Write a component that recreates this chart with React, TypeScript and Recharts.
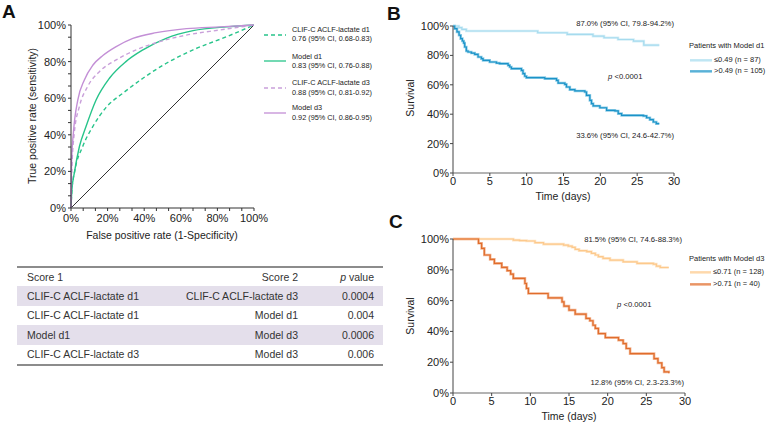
import React from 'react';
import { LineChart, Line, XAxis, YAxis } from 'recharts';

const FONT = '"Liberation Sans", Arial, Helvetica, sans-serif';
const INK = '#222';

// ---------- A: ROC curves (false positive rate / true positive rate) ----------
const clifD1Fpr = [0, 0.005, 0.02, 0.064, 0.119, 0.192, 0.283, 0.393, 0.521, 0.667, 0.85, 1];
const clifD1Tpr = [0, 0.1, 0.2, 0.336, 0.445, 0.55, 0.627, 0.709, 0.791, 0.864, 0.936, 1];
const modelD1Fpr = [0, 0.005, 0.018, 0.046, 0.082, 0.137, 0.21, 0.3, 0.393, 0.52, 0.667, 0.85, 1];
const modelD1Tpr = [0, 0.1, 0.19, 0.336, 0.445, 0.59, 0.709, 0.8, 0.864, 0.927, 0.969, 0.99, 1];
const clifD3Fpr = [0, 0.005, 0.018, 0.046, 0.091, 0.155, 0.247, 0.356, 0.484, 0.631, 0.814, 1];
const clifD3Tpr = [0, 0.22, 0.41, 0.555, 0.664, 0.745, 0.809, 0.864, 0.909, 0.945, 0.973, 1];
const modelD3Fpr = [0, 0.003, 0.013, 0.037, 0.073, 0.119, 0.174, 0.247, 0.338, 0.466, 0.631, 0.814, 1];
const modelD3Tpr = [0, 0.25, 0.41, 0.59, 0.7, 0.78, 0.833, 0.882, 0.927, 0.958, 0.98, 0.99, 1];
const chanceFpr = [0, 1];
const chanceTpr = [0, 1];
const rocMajorTicks = [0, 0.2, 0.4, 0.6, 0.8, 1];

const rocLegendNames = ['CLIF-C ACLF-lactate d1', 'Model d1', 'CLIF-C ACLF-lactate d3', 'Model d3'];
const rocLegendAuc = ['0.76 (95% CI, 0.68-0.83)', '0.83 (95% CI, 0.76-0.88)', '0.88 (95% CI, 0.81-0.92)', '0.92 (95% CI, 0.86-0.95)'];

// ---------- table ----------
const tableScore1 = ['CLIF-C ACLF-lactate d1', 'CLIF-C ACLF-lactate d1', 'Model d1', 'CLIF-C ACLF-lactate d3'];
const tableScore2 = ['CLIF-C ACLF-lactate d3', 'Model d1', 'Model d3', 'Model d3'];
const tablePValue = ['0.0004', '0.004', '0.0006', '0.006'];

// ---------- B: Kaplan-Meier, Model d1 ----------
const bLowT = [0, 0.8, 1.2, 1.8, 11.5, 15.5, 19.0, 20.5, 22.4, 24.5, 25.9, 28.0];
const bLowS = [1, 0.989, 0.977, 0.966, 0.954, 0.943, 0.931, 0.92, 0.908, 0.897, 0.87, 0.87];
const bHighT = [0, 0.23, 0.54, 0.82, 1.04, 1.27, 1.45, 1.59, 1.81, 2.04, 2.49, 2.95, 3.4, 3.85, 4.08, 4.98, 5.89, 6.34, 7.48, 7.7,
  7.93, 9.29, 9.5, 9.74, 9.97, 12.46, 14.05, 14.27, 15.18, 15.4, 15.86, 16.54, 17.9, 18.12, 18.58, 18.8, 19.03, 19.94, 20.85, 21.98,
  22.43, 22.89, 25.83, 26.28, 26.73, 27.19, 27.6, 28.0];
const bHighS = [1, 0.982, 0.96, 0.937, 0.914, 0.898, 0.884, 0.857, 0.83, 0.823, 0.816, 0.807, 0.789, 0.778, 0.766, 0.755, 0.748, 0.744, 0.732, 0.721,
  0.71, 0.698, 0.676, 0.658, 0.649, 0.642, 0.63, 0.612, 0.603, 0.585, 0.567, 0.558, 0.551, 0.528, 0.494, 0.472, 0.456, 0.444, 0.426, 0.422,
  0.404, 0.392, 0.388, 0.376, 0.363, 0.347, 0.336, 0.336];

// ---------- C: Kaplan-Meier, Model d3 ----------
const cLowT = [0, 7.8, 8.6, 9.5, 10.6, 11.7, 14.3, 14.9, 15.4, 15.8, 16.3, 17.3, 17.9, 18.4, 18.8, 19.4, 20.3, 22.0, 23.8, 25.9, 26.3, 26.8, 27.9];
const cLowS = [1, 0.993, 0.99, 0.987, 0.976, 0.967, 0.96, 0.954, 0.946, 0.933, 0.924, 0.918, 0.907, 0.896, 0.885, 0.874, 0.863, 0.852, 0.842, 0.837, 0.824, 0.815, 0.815];
const cHighT = [0, 3.3, 3.7, 4.05, 4.8, 5.35, 6.3, 7.0, 7.45, 7.8, 9.3, 9.5, 9.75, 12.3, 14.1, 14.35, 15.0, 15.8, 17.2, 17.7,
  18.1, 18.4, 18.8, 19.7, 21.4, 22.0, 22.4, 22.9, 26.0, 26.5, 27.0, 27.3, 27.9];
const cHighS = [1, 0.972, 0.939, 0.896, 0.868, 0.842, 0.816, 0.794, 0.772, 0.744, 0.711, 0.679, 0.646, 0.618, 0.592, 0.564, 0.538, 0.512, 0.484, 0.469,
  0.44, 0.419, 0.386, 0.36, 0.343, 0.321, 0.289, 0.256, 0.223, 0.195, 0.165, 0.137, 0.128];

const kmTimeTicks = [0, 5, 10, 15, 20, 25, 30];
const kmSurvTicks = [0, 0.2, 0.4, 0.6, 0.8, 1];

const GREEN = '#27c48a';
const PURPLE = '#c38fd6';
const PURPLE_DASH = '#c9a0da';

const pts = (xs: number[], ys: number[]) => xs.map((x, i) => ({ x, y: ys[i] }));
const pct = (v: number) => `${Math.round(v * 100)}%`;
const isMajor = (v: number) => Math.abs(v * 5 - Math.round(v * 5)) < 1e-6;

// two minor ticks between each labelled tick
const rocTicks = rocMajorTicks.flatMap((v, i) => (i === 0 ? [v] : [v - 0.4 / 3, v - 0.2 / 3, v]));

const blankTick = () => <g />;
const rocYTick = (p: any) =>
  isMajor(p.payload.value) ? (
    <text x={p.x} y={p.y} dy={4} textAnchor="end" fontSize={11} fill={INK} fontFamily={FONT}>{pct(p.payload.value)}</text>
  ) : <g />;
const rocXTick = (p: any) =>
  isMajor(p.payload.value) ? (
    <text x={p.x} y={p.y} dy={9} textAnchor="middle" fontSize={11} fill={INK} fontFamily={FONT}>{pct(p.payload.value)}</text>
  ) : <g />;

function Txt({ x, y, size, align = 'left', children, style }: any) {
  const tx = align === 'left' ? '0' : align === 'right' ? '-100%' : '-50%';
  return (
    <div style={{ position: 'absolute', left: x, top: y, transform: `translate(${tx},-50%)`, fontSize: size, lineHeight: 1,
      whiteSpace: 'nowrap', fontFamily: FONT, color: INK, ...style }}>{children}</div>
  );
}

function VTxt({ x, y, size, children }: any) {
  return (
    <div style={{ position: 'absolute', left: x, top: y, transform: 'translate(-50%,-50%) rotate(-90deg)', fontSize: size,
      lineHeight: 1, whiteSpace: 'nowrap', fontFamily: FONT, color: INK }}>{children}</div>
  );
}

function Swatch({ x, y, color, dash, shadow, w = 22 }: any) {
  return (
    <svg style={{ position: 'absolute', left: x, top: y - 2 }} width={w} height={5}>
      {shadow && <line x1={0} x2={w} y1={3.2} y2={3.2} stroke={shadow} strokeWidth={1.3} />}
      <line x1={0} x2={w} y1={2} y2={2} stroke={color} strokeWidth={1.3} strokeDasharray={dash} />
    </svg>
  );
}

function RocPanel() {
  const curves = [
    { fpr: clifD1Fpr, tpr: clifD1Tpr, color: GREEN, dash: '4 3' },
    { fpr: modelD1Fpr, tpr: modelD1Tpr, color: GREEN, dash: undefined },
    { fpr: clifD3Fpr, tpr: clifD3Tpr, color: PURPLE_DASH, dash: '4 3' },
    { fpr: modelD3Fpr, tpr: modelD3Tpr, color: PURPLE, dash: undefined },
  ];
  const legendY = [30, 56.7, 83.3, 108.3];
  return (
    <>
      <div style={{ position: 'absolute', left: 0, top: 0 }}>
        <LineChart width={300} height={260} margin={{ top: 25, right: 46, bottom: 22, left: 26 }} style={{ fontFamily: FONT }}>
          <XAxis xAxisId="b" type="number" dataKey="x" domain={[0, 1]} ticks={rocTicks} interval={0} tickSize={3} height={30}
            axisLine={{ stroke: '#333' }} tickLine={{ stroke: '#333' }} tick={rocXTick} />
          <XAxis xAxisId="t" orientation="top" type="number" dataKey="x" domain={[0, 1]} ticks={rocTicks} interval={0} tickSize={3}
            height={0} mirror axisLine={{ stroke: '#777', strokeWidth: 1.5 }} tickLine={{ stroke: '#555' }} tick={blankTick} />
          <YAxis yAxisId="l" type="number" domain={[0, 1]} ticks={rocTicks} interval={0} tickSize={3} width={45}
            axisLine={{ stroke: '#333' }} tickLine={{ stroke: '#333' }} tick={rocYTick} />
          <YAxis yAxisId="r" orientation="right" type="number" domain={[0, 1]} ticks={rocTicks} interval={0} tickSize={3}
            width={0} mirror axisLine={{ stroke: '#555' }} tickLine={{ stroke: '#555' }} tick={blankTick} />
          <Line xAxisId="t" yAxisId="r" data={pts(chanceFpr, chanceTpr)} dataKey="y" type="linear" stroke="#333"
            strokeWidth={1} dot={false} isAnimationActive={false} />
          {curves.map((c, i) => (
            <Line key={i} xAxisId="b" yAxisId="l" data={pts(c.fpr, c.tpr)} dataKey="y" type="monotone" stroke={c.color}
              strokeWidth={1.4} strokeDasharray={c.dash} dot={false} isAnimationActive={false} />
          ))}
        </LineChart>
      </div>
      <VTxt x={32} y={116} size={10.5}>True positive rate (sensitivity)</VTxt>
      <Txt x={162} y={235} size={10.5} align="center">False positive rate (1-Specificity)</Txt>
      {curves.map((c, i) => (
        <React.Fragment key={i}>
          <Swatch x={264} y={legendY[i] + 4.5} color={c.color} dash={c.dash} />
          <Txt x={292} y={legendY[i]} size={7.3}>{rocLegendNames[i]}</Txt>
          <Txt x={292} y={legendY[i] + 9.4} size={7.3}>{rocLegendAuc[i]}</Txt>
        </React.Fragment>
      ))}
    </>
  );
}

function PValueTable() {
  const cell = (h: number, bg: string, a: any, b: any, c: any, key: any) => (
    <div key={key} style={{ position: 'relative', height: h, background: bg }}>
      <span style={{ position: 'absolute', left: 10, top: '50%', transform: 'translateY(-50%)' }}>{a}</span>
      <span style={{ position: 'absolute', right: 85, top: '50%', transform: 'translateY(-50%)' }}>{b}</span>
      <span style={{ position: 'absolute', right: 9, top: '50%', transform: 'translateY(-50%)' }}>{c}</span>
    </div>
  );
  return (
    <div style={{ position: 'absolute', left: 17, top: 266, width: 366, borderTop: '2px solid #8c8c8c', borderBottom: '2px solid #8c8c8c',
      fontFamily: FONT, fontSize: 10.5, color: '#333', lineHeight: 1, whiteSpace: 'nowrap' }}>
      {cell(18, '#fff', 'Score 1', 'Score 2', <><i>p</i> value</>, 'h')}
      {tableScore1.map((s, i) => cell(19.5, i % 2 === 0 ? '#e4dfeb' : '#fff', s, tableScore2[i], tablePValue[i], i))}
    </div>
  );
}

function KmPanel(props: any) {
  const { left, top, width, height, margin, low, high, lowColor, lowShadow, highColor, highShadow } = props;
  const series = [
    { d: low, c: lowColor, s: lowShadow },
    { d: high, c: highColor, s: highShadow },
  ];
  return (
    <div style={{ position: 'absolute', left, top }}>
      <LineChart width={width} height={height} margin={margin} style={{ fontFamily: FONT }}>
        <XAxis type="number" dataKey="x" domain={[0, 30]} ticks={kmTimeTicks} interval={0} tickSize={3} tickMargin={1} height={25}
          axisLine={{ stroke: '#9a9a9a', strokeWidth: 1.6 }} tickLine={{ stroke: '#444' }}
          tick={{ fontSize: 11, fill: INK, fontFamily: FONT }} />
        <YAxis type="number" domain={[0, 1]} ticks={kmSurvTicks} interval={0} tickSize={3} tickMargin={1} width={40}
          axisLine={{ stroke: '#444' }} tickLine={{ stroke: '#444' }} tickFormatter={pct}
          tick={{ fontSize: 11, fill: INK, fontFamily: FONT }} />
        {series.map((s, i) => (
          <Line key={`s${i}`} data={s.d} dataKey="y" type="stepAfter" stroke={s.s} strokeWidth={2.6} dot={false} isAnimationActive={false} />
        ))}
        {series.map((s, i) => (
          <Line key={`m${i}`} data={s.d} dataKey="y" type="stepAfter" stroke={s.c} strokeWidth={1.2} dot={false} isAnimationActive={false} />
        ))}
      </LineChart>
    </div>
  );
}

const letter = (ch: string, x: number, y: number) => (
  <div style={{ position: 'absolute', left: x, top: y, fontFamily: FONT, fontWeight: 700, fontSize: 19, lineHeight: 1, color: '#111' }}>{ch}</div>
);

export default function App() {
  return (
    <div style={{ position: 'relative', width: 767, height: 423, background: '#fff', overflow: 'hidden' }}>
      <style>{'body{margin:0}'}</style>
      {letter('A', 2, 2)}
      {letter('B', 387, 4)}
      {letter('C', 389, 212)}

      <RocPanel />
      <PValueTable />

      <KmPanel left={400} top={0} width={290} height={210} margin={{ top: 26, right: 16, bottom: 12, left: 13 }}
        low={pts(bLowT, bLowS)} high={pts(bHighT, bHighS)}
        lowColor="#a6dbee" lowShadow="#d6eff8" highColor="#1b93c8" highShadow="#8fcde7" />
      <VTxt x={410} y={98} size={10.5}>Survival</VTxt>
      <Txt x={563} y={196} size={10.5} align="center">Time (days)</Txt>
      <Txt x={674} y={24} size={7.7} align="right">87.0% (95% CI, 79.8-94.2%)</Txt>
      <Txt x={608} y={77} size={7.7}><i>p</i> &lt;0.0001</Txt>
      <Txt x={674} y={136} size={7.7} align="right">33.6% (95% CI, 24.6-42.7%)</Txt>
      <Txt x={689} y={46} size={7.5}>Patients with Model d1</Txt>
      <Swatch x={690} y={60} color="#a6dbee" shadow="#d6eff8" w={22} />
      <Txt x={714} y={60} size={7.5}>≤0.49 (n = 87)</Txt>
      <Swatch x={690} y={71} color="#1b93c8" shadow="#8fcde7" w={22} />
      <Txt x={714} y={71} size={7.5}>&gt;0.49 (n = 105)</Txt>

      <KmPanel left={400} top={210} width={300} height={213} margin={{ top: 29, right: 15, bottom: 5, left: 13 }}
        low={pts(cLowT, cLowS)} high={pts(cHighT, cHighS)}
        lowColor="#fdc98c" lowShadow="#fee5c6" highColor="#e06d2c" highShadow="#f3b592" />
      <VTxt x={410} y={316} size={10.5}>Survival</VTxt>
      <Txt x={569} y={416} size={10.5} align="center">Time (days)</Txt>
      <Txt x={682} y={240} size={7.7} align="right">81.5% (95% CI, 74.6-88.3%)</Txt>
      <Txt x={617} y={305} size={7.7}><i>p</i> &lt;0.0001</Txt>
      <Txt x={684} y={383} size={7.7} align="right">12.8% (95% CI, 2.3-23.3%)</Txt>
      <Txt x={689} y={259} size={7.5}>Patients with Model d3</Txt>
      <Swatch x={690} y={272} color="#fdc98c" shadow="#fee5c6" w={21} />
      <Txt x={713} y={272} size={7.5}>≤0.71 (n = 128)</Txt>
      <Swatch x={690} y={284} color="#e06d2c" shadow="#f3b592" w={21} />
      <Txt x={713} y={284} size={7.5}>&gt;0.71 (n = 40)</Txt>
    </div>
  );
}
